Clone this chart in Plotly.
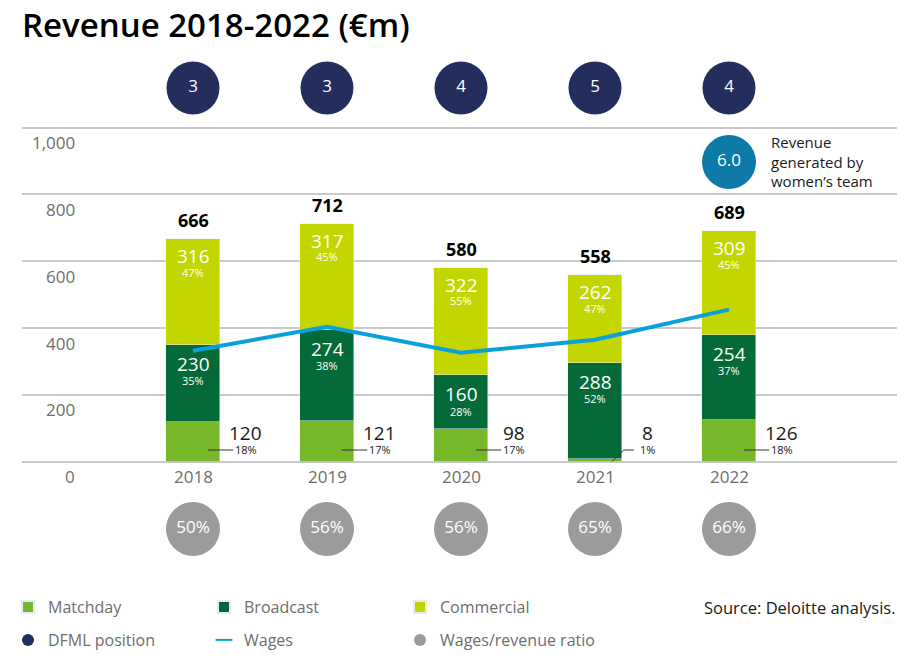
import plotly.graph_objects as go

# ---------------- data ----------------
years = ["2018", "2019", "2020", "2021", "2022"]
matchday = [120, 121, 98, 8, 126]
broadcast = [230, 274, 160, 288, 254]
commercial = [316, 317, 322, 262, 309]
totals = [666, 712, 580, 558, 689]
matchday_pct = ["18%", "17%", "17%", "1%", "18%"]
broadcast_pct = ["35%", "38%", "28%", "52%", "37%"]
commercial_pct = ["47%", "45%", "55%", "47%", "45%"]
wages = [332, 404, 326, 365, 455]
dfml_position = [3, 3, 4, 5, 4]
wage_ratio = ["50%", "56%", "56%", "65%", "66%"]
womens_revenue = 6.0
y_ticks = [0, 200, 400, 600, 800, 1000]
y_tick_labels = ["0", "200", "400", "600", "800", "1,000"]

# ---------------- style ----------------
FONT = "Open Sans"
C_MATCH = "#76b82a"
C_BROAD = "#046a38"
C_COMM = "#c4d600"
C_WAGES = "#0aa0db"
C_DFML = "#232e5c"
C_RATIO = "#9b9b9b"
C_WOMEN = "#0d7aa8"
C_GRID = "#c9c9c9"
C_LABEL = "#6e6e6e"

OFF = 8                        # default page body margin of the html page
W, H = 905 - OFF, 672 - OFF    # figure size so it fits the window
M_L, M_R, M_T, M_B = 22 - OFF, 0, 32, 100
PX_PER_UNIT = 0.3342           # vertical pixels per €m
ZERO_PAGE = 461.7              # page pixel row of the zero line
X_STEP = 134                   # pixels between bar centres
X0_PAGE = 193                  # page pixel column of first bar centre

plot_top_page = M_T + OFF
plot_bot_page = H + OFF - M_B
plot_left_page = M_L + OFF
plot_right_page = W + OFF - M_R
plot_w = plot_right_page - plot_left_page
plot_h = plot_bot_page - plot_top_page


def px_to_y(py):
    return (ZERO_PAGE - py) / PX_PER_UNIT


def px_to_x(px):
    return (px - X0_PAGE) / X_STEP


y_range = [px_to_y(plot_bot_page), px_to_y(plot_top_page)]
x_range = [px_to_x(plot_left_page), px_to_x(plot_right_page)]

xs = list(range(len(years)))
bar_w = 0.40

fig = go.Figure()

fig.add_trace(go.Bar(x=xs, y=matchday, name="Matchday", marker_color=C_MATCH,
                     width=bar_w, legend="legend", hoverinfo="skip"))
fig.add_trace(go.Bar(x=xs, y=broadcast, name="Broadcast", marker_color=C_BROAD,
                     width=bar_w, legend="legend", hoverinfo="skip"))
fig.add_trace(go.Bar(x=xs, y=commercial, name="Commercial", marker_color=C_COMM,
                     width=bar_w, legend="legend", hoverinfo="skip"))

fig.add_trace(go.Scatter(x=xs, y=wages, mode="lines", name="Wages",
                         line=dict(color=C_WAGES, width=4), showlegend=False,
                         hoverinfo="skip"))

# DFML position circles (top row)
fig.add_trace(go.Scatter(
    x=xs, y=[px_to_y(88)] * len(xs), mode="markers+text", name="DFML position",
    marker=dict(size=53, color=C_DFML), text=[str(v) for v in dfml_position],
    textposition="middle center", textfont=dict(color="white", size=17, family=FONT),
    legend="legend2", hoverinfo="skip"))

# Wages legend proxy (short dash)
fig.add_trace(go.Scatter(
    x=[None], y=[None], mode="markers", name="Wages",
    marker=dict(symbol="line-ew", size=10, line=dict(color=C_WAGES, width=3)),
    legend="legend2", hoverinfo="skip"))

# Wages / revenue ratio circles (bottom row)
fig.add_trace(go.Scatter(
    x=xs, y=[px_to_y(529)] * len(xs), mode="markers+text", name="Wages/revenue ratio",
    marker=dict(size=54, color=C_RATIO), text=wage_ratio,
    textposition="middle center", textfont=dict(color="white", size=17, family=FONT),
    legend="legend2", hoverinfo="skip"))

# Women's team revenue circle
fig.add_trace(go.Scatter(
    x=[4], y=[px_to_y(162)], mode="markers+text", showlegend=False,
    marker=dict(size=54, color=C_WOMEN), text=[f"{womens_revenue:.1f}"],
    textposition="middle center", textfont=dict(color="white", size=17, family=FONT),
    hoverinfo="skip"))

annotations = []
shapes = []

for i, x in enumerate(xs):
    top_c = matchday[i] + broadcast[i] + commercial[i]
    top_b = matchday[i] + broadcast[i]
    # totals
    annotations.append(dict(x=x, y=totals[i], text=f"<b>{totals[i]}</b>", showarrow=False,
                            yanchor="middle", yshift=19,
                            font=dict(size=18, color="black", family=FONT)))
    # commercial
    annotations.append(dict(x=x, y=top_c, text=str(commercial[i]), showarrow=False,
                            yanchor="middle", yshift=-17,
                            font=dict(size=19, color="white", family=FONT)))
    annotations.append(dict(x=x, y=top_c, text=commercial_pct[i], showarrow=False,
                            yanchor="middle", yshift=-33,
                            font=dict(size=11, color="white", family=FONT)))
    # broadcast
    annotations.append(dict(x=x, y=top_b, text=str(broadcast[i]), showarrow=False,
                            yanchor="middle", yshift=-19,
                            font=dict(size=19, color="white", family=FONT)))
    annotations.append(dict(x=x, y=top_b, text=broadcast_pct[i], showarrow=False,
                            yanchor="middle", yshift=-36,
                            font=dict(size=11, color="white", family=FONT)))
    # matchday (outside, with leader line)
    annotations.append(dict(x=x + 0.395, y=0, text=str(matchday[i]), showarrow=False,
                            yanchor="middle", yshift=29,
                            font=dict(size=19, color="#1a1a1a", family=FONT)))
    annotations.append(dict(x=x + 0.395, y=0, text=matchday_pct[i], showarrow=False,
                            yanchor="middle", yshift=12,
                            font=dict(size=11, color="#1a1a1a", family=FONT)))
    lead_y = px_to_y(450)
    if matchday[i] < 30:
        shapes.append(dict(type="line", xref="x", yref="y", x0=x + 0.125, y0=0,
                           x1=x + 0.215, y1=lead_y, line=dict(color="#333", width=1)))
        shapes.append(dict(type="line", xref="x", yref="y", x0=x + 0.215, y0=lead_y,
                           x1=x + 0.29, y1=lead_y, line=dict(color="#333", width=1)))
    else:
        shapes.append(dict(type="line", xref="x", yref="y", x0=x + 0.11, y0=lead_y,
                           x1=x + 0.30, y1=lead_y, line=dict(color="#333", width=1)))
    # year labels
    annotations.append(dict(x=x, y=0, text=years[i], showarrow=False,
                            yanchor="middle", yshift=-15,
                            font=dict(size=17, color=C_LABEL, family=FONT)))

# y tick labels (right aligned, below gridlines)
for v, lab in zip(y_ticks, y_tick_labels):
    annotations.append(dict(xref="paper", x=(77 - plot_left_page) / plot_w, y=v, text=lab,
                            showarrow=False, xanchor="right", yanchor="middle", yshift=-15,
                            font=dict(size=17, color=C_LABEL, family=FONT)))

# women's team label
annotations.append(dict(x=4 + (769 - 729) / X_STEP, y=px_to_y(161),
                        text="Revenue<br>generated by<br>women’s team",
                        showarrow=False, xanchor="left", yanchor="middle", align="left",
                        font=dict(size=15, color="#1a1a1a", family=FONT)))

# source
annotations.append(dict(xref="paper", yref="paper", x=1.0, xshift=-7,
                        y=(plot_bot_page - 607) / plot_h, text="Source: Deloitte analysis.",
                        showarrow=False, xanchor="right", yanchor="middle",
                        font=dict(size=16.5, color="#1a1a1a", family=FONT)))

fig.update_layout(
    width=W, height=H,
    margin=dict(l=M_L, r=M_R, t=M_T, b=M_B),
    paper_bgcolor="white", plot_bgcolor="white",
    barmode="stack", bargap=0,
    font=dict(family=FONT),
    title=dict(text="Revenue 2018-2022 (€m)", x=(22 - OFF) / W, xanchor="left",
               xref="container", y=1 - (25 - OFF) / H, yanchor="middle", yref="container",
               font=dict(size=33, color="black", family=FONT, weight=600)),
    xaxis=dict(range=x_range, showgrid=False, zeroline=False, showticklabels=False,
               showline=False, fixedrange=True),
    yaxis=dict(range=y_range, tickvals=y_ticks, showticklabels=False, showgrid=True,
               gridcolor=C_GRID, gridwidth=1.5, zeroline=False, showline=False,
               fixedrange=True),
    annotations=annotations,
    shapes=shapes,
    hovermode=False,
    legend=dict(orientation="h", xref="container", yref="container",
                x=0, xanchor="left", y=1 - (607 - OFF) / H, yanchor="middle",
                entrywidth=151, itemsizing="constant", traceorder="normal",
                font=dict(size=16, color=C_LABEL, family=FONT), bgcolor="rgba(0,0,0,0)"),
    legend2=dict(orientation="h", xref="container", yref="container",
                 x=0, xanchor="left", y=1 - (640 - OFF) / H, yanchor="middle",
                 entrywidth=151, itemsizing="constant", traceorder="normal",
                 font=dict(size=16, color=C_LABEL, family=FONT), bgcolor="rgba(0,0,0,0)"),
)

fig.write_html("out.html")
